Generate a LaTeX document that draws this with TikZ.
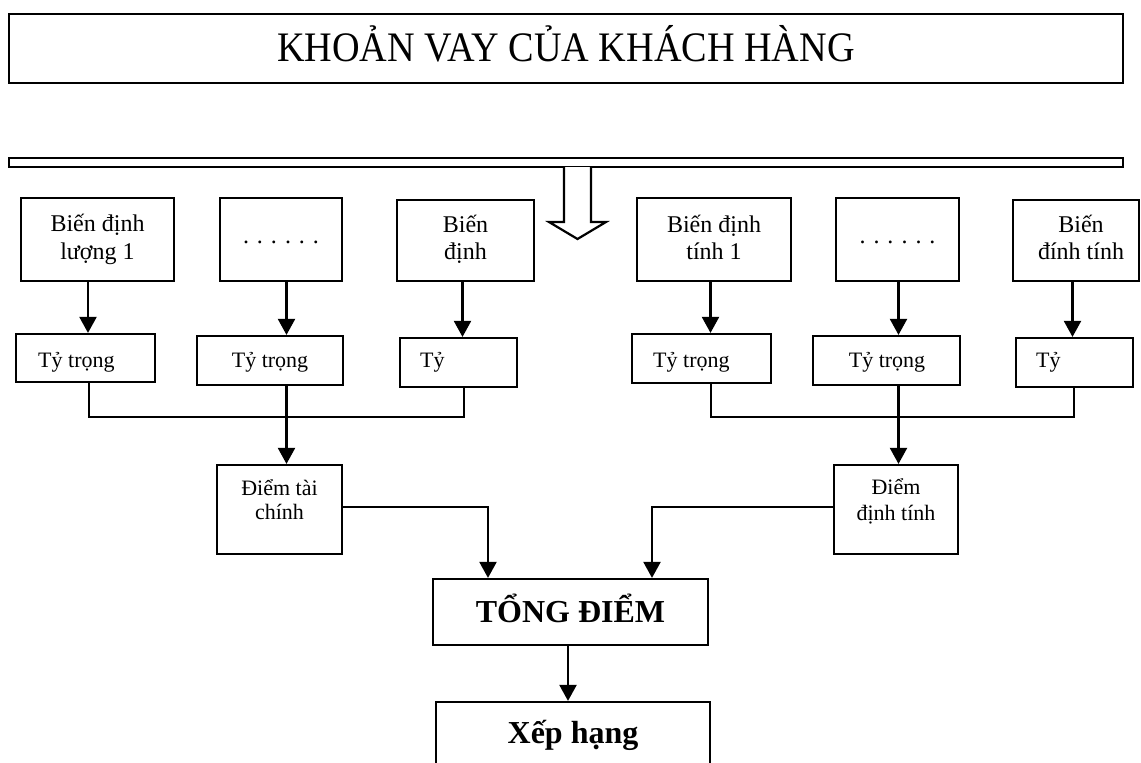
\documentclass[tikz,border=0pt]{standalone}
\usepackage{fontspec}
\usepackage{graphicx}
\setmainfont{Liberation Serif}
\usetikzlibrary{arrows.meta}

\tikzset{
  box/.style={draw, line width=2.2pt, rectangle, inner sep=0pt},
  lbl/.style={inner sep=0pt, anchor=base, font=\fontsize{24pt}{28pt}\selectfont},
  wlbl/.style={inner sep=0pt, font=\fontsize{22pt}{26pt}\selectfont},
  biglbl/.style={inner sep=0pt, anchor=base, font=\fontsize{32pt}{38pt}\selectfont\bfseries},
  link/.style={line width=2.2pt},
  arr/.style={line width=2.2pt, -{Triangle[width=17pt,length=16pt]}},
}

\begin{document}
\begin{tikzpicture}[x=1pt, y=-1pt]
\useasboundingbox (0,0) rectangle (1141,763);
\clip (0,0) rectangle (1141,763);

% heading and distribution bar
\node[box, line width=2.8pt, minimum width=1114pt, minimum height=69pt] (title) at (566,48.5) {};
\node[inner sep=0pt, anchor=base] (titleT) at (566,61)
  {\scalebox{0.91}[1]{\fontsize{42pt}{50pt}\selectfont KHOẢN VAY CỦA KHÁCH HÀNG}};
\node[box, line width=2.6pt, minimum width=1114pt, minimum height=9pt] (bar) at (566,162.5) {};
\draw[line width=2.2pt, fill=white] (564,167) -- (564,222) -- (549,222) -- (577.5,239)
  -- (606,222) -- (591,222) -- (591,167);

% variable boxes
\node[box, minimum width=153pt, minimum height=83pt] (A) at (97.5,239.5) {};
\node[box, minimum width=122pt, minimum height=83pt] (B) at (281,239.5) {};
\node[box, minimum width=137pt, minimum height=81pt] (C) at (465.5,240.5) {};
\node[box, minimum width=154pt, minimum height=83pt] (D) at (714,239.5) {};
\node[box, minimum width=123pt, minimum height=83pt] (E) at (897.5,239.5) {};
\node[box, minimum width=126pt, minimum height=81pt] (F) at (1076,240.5) {};

\node[lbl] (A1) at (97.5,231) {Biến định};
\node[lbl] (A2) at (97.5,259) {lượng 1};
\node[lbl] (B1) at (281,243) {. . . . . .};
\node[lbl] (C1) at (465.5,232) {Biến};
\node[lbl] (C2) at (465.5,259) {định};
\node[lbl] (D1) at (714,232) {Biến định};
\node[lbl] (D2) at (714,259) {tính 1};
\node[lbl] (E1) at (897.5,243) {. . . . . .};
\node[lbl] (F1) at (1081,232) {Biến};
\node[lbl] (F2) at (1081,259) {đính tính};

% weight boxes
\node[box, minimum width=139pt, minimum height=48pt] (a) at (85.5,358) {};
\node[box, minimum width=146pt, minimum height=49pt] (b) at (270,360.5) {};
\node[box, minimum width=117pt, minimum height=49pt] (c) at (458.5,362.5) {};
\node[box, minimum width=139pt, minimum height=49pt] (d) at (701.5,358.5) {};
\node[box, minimum width=147pt, minimum height=49pt] (e) at (886.5,360.5) {};
\node[box, minimum width=117pt, minimum height=49pt] (f) at (1074.5,362.5) {};

\node[wlbl, anchor=base west] (aT) at (38,367) {Tỷ trọng};
\node[wlbl, anchor=base] (bT) at (270,367) {Tỷ trọng};
\node[wlbl, anchor=base west] (cT) at (420,367) {Tỷ};
\node[wlbl, anchor=base west] (dT) at (653,367) {Tỷ trọng};
\node[wlbl, anchor=base] (eT) at (887,367) {Tỷ trọng};
\node[wlbl, anchor=base west] (fT) at (1036,367) {Tỷ};

% arrow columns
\coordinate (xA) at (88,0);
\coordinate (xB) at (286.5,0);
\coordinate (xC) at (462.5,0);
\coordinate (xD) at (710.5,0);
\coordinate (xE) at (898.5,0);
\coordinate (xF) at (1072.5,0);

\draw[arr] (A.south -| xA) -- (a.north -| xA);
\draw[arr] (B.south -| xB) -- (b.north -| xB);
\draw[arr] (C.south -| xC) -- (c.north -| xC);
\draw[arr] (D.south -| xD) -- (d.north -| xD);
\draw[arr] (E.south -| xE) -- (e.north -| xE);
\draw[arr] (F.south -| xF) -- (f.north -| xF);

% group scores
\node[box, minimum width=125pt, minimum height=89pt] (ptc) at (279.5,509.5) {};
\node[box, minimum width=124pt, minimum height=89pt] (pdt) at (896,509.5) {};
\node[wlbl, anchor=base] (ptc1) at (279.5,495) {Điểm tài};
\node[wlbl, anchor=base] (ptc2) at (279.5,519) {chính};
\node[wlbl, anchor=base] (pdt1) at (896,494) {Điểm};
\node[wlbl, anchor=base] (pdt2) at (896,520) {định tính};

\coordinate (ja) at (89,417);
\coordinate (jc) at (464,417);
\coordinate (jd) at (711,417);
\coordinate (jf) at (1074,417);
\draw[link] (a.south -| ja) -- (ja) -- (jc) -- (c.south -| jc);
\draw[link] (d.south -| jd) -- (jd) -- (jf) -- (f.south -| jf);
\draw[arr] (b.south -| xB) -- (ptc.north -| xB);
\draw[arr] (e.south -| xE) -- (pdt.north -| xE);

% total and ranking
\node[box, minimum width=275pt, minimum height=66pt] (tong) at (570.5,612) {};
\node[biglbl] (tongT) at (570.5,622) {TỔNG ĐIỂM};
\node[box, minimum width=274pt, minimum height=66pt] (xh) at (573,735) {};
\node[biglbl] (xhT) at (573,743) {Xếp hạng};

\coordinate (j1) at (488,507);
\coordinate (j2) at (652,507);
\draw[arr] (ptc.east |- j1) -| (tong.north -| j1);
\draw[arr] (pdt.west |- j2) -| (tong.north -| j2);
\coordinate (xT) at (568,0);
\draw[arr] (tong.south -| xT) -- (xh.north -| xT);
\end{tikzpicture}
\end{document}
